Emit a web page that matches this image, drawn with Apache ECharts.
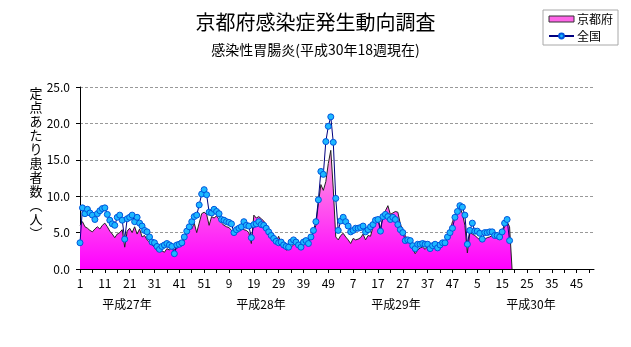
<!DOCTYPE html>
<html><head><meta charset="utf-8">
<script src="https://cdn.jsdelivr.net/npm/echarts/dist/echarts.min.js"></script>
<style>html,body{margin:0;padding:0;background:#fff}#c{width:631px;height:347px}</style>
</head><body><div id="c"></div>
<script>
// ---- data ----
const yearLabels = ['平成27年', '平成28年', '平成29年', '平成30年'];
const weeksPerYear = 52;
const seriesNames = ['京都府', '全国'];
const titleText = '京都府感染症発生動向調査';
const subTitleText = '感染性胃腸炎(平成30年18週現在)';
const yAxisName = '定点あたり患者数(人)';
const yTicks = [0, 5, 10, 15, 20, 25];

const kyotoH27 = [6.0, 6.5, 5.8, 5.6, 5.3, 5.1, 5.5, 5.8, 5.5, 6.0,
  6.3, 5.8, 5.2, 4.8, 4.3, 4.8, 5.0, 5.4, 3.0, 5.2,
  5.6, 5.0, 5.8, 4.8, 5.5, 4.4, 4.6, 4.0, 3.7, 3.3,
  3.0, 2.5, 2.4, 2.5, 2.3, 2.8, 2.6, 3.0, 2.7, 2.8,
  3.2, 3.5, 4.0, 4.8, 5.8, 5.5, 6.3, 5.0, 6.3, 7.6,
  7.8, 7.5];
const kyotoH28 = [6.0, 7.2, 7.0, 7.3, 6.8, 6.3, 6.0, 5.8, 5.7, 5.3,
  4.8, 5.0, 5.2, 5.6, 5.4, 5.3, 5.0, 3.5, 7.4, 7.0,
  7.2, 6.9, 6.6, 6.0, 5.3, 4.8, 4.3, 3.8, 4.5, 3.5,
  3.0, 2.6, 2.7, 3.0, 3.3, 3.5, 2.8, 3.0, 3.4, 3.6,
  4.0, 4.2, 5.0, 6.0, 9.0, 11.6, 10.8, 12.0, 14.5, 16.3,
  11.0, 4.4];
const kyotoH29 = [4.0, 4.6, 4.9, 4.4, 4.0, 3.5, 4.2, 4.0, 4.1, 4.3,
  4.8, 4.0, 4.6, 4.5, 5.8, 6.5, 7.0, 5.5, 7.3, 8.0,
  8.7, 7.5, 7.7, 7.9, 7.8, 6.2, 5.3, 4.6, 4.0, 3.6,
  2.8, 2.1, 2.6, 2.9, 3.0, 2.7, 3.1, 3.3, 3.0, 3.2,
  3.5, 3.3, 3.2, 3.6, 4.3, 5.2, 6.5, 7.3, 8.0, 8.5,
  7.6, 6.0];
// weeks 1-18, then the area falls to zero as in the original
const kyotoH30 = [2.2, 5.0, 4.8, 4.6, 4.3, 4.0, 3.9, 4.1, 4.3, 4.4,
  4.6, 4.5, 4.4, 4.6, 5.0, 5.8, 6.5, 5.8, 0];

const nationalH27 = [3.6, 8.4, 7.6, 8.2, 7.7, 7.4, 6.8, 7.6, 8.0, 8.3,
  8.4, 7.5, 6.7, 6.2, 6.0, 7.1, 7.4, 6.7, 4.1, 6.9,
  7.1, 7.4, 6.5, 7.1, 6.3, 5.9, 5.3, 5.1, 4.4, 3.7,
  3.6, 3.1, 2.7, 3.1, 3.3, 3.5, 3.3, 3.1, 2.1, 3.3,
  3.4, 3.6, 4.4, 5.2, 5.8, 6.5, 7.2, 7.4, 8.8, 10.3,
  10.9, 10.2];
const nationalH28 = [7.8, 7.7, 8.2, 7.9, 7.6, 6.8, 6.7, 6.5, 6.4, 6.2,
  5.0, 5.4, 5.6, 5.8, 6.5, 6.0, 5.9, 4.3, 6.1, 6.2,
  6.5, 6.1, 6.0, 5.6, 5.1, 4.6, 4.2, 3.8, 3.6, 3.7,
  3.3, 3.1, 3.0, 3.7, 4.0, 3.7, 3.3, 3.0, 3.7, 3.9,
  3.5, 4.4, 5.3, 6.5, 9.5, 13.4, 13.0, 17.5, 19.6, 20.9,
  17.4, 9.7];
const nationalH29 = [5.3, 6.6, 7.1, 6.5, 5.9, 5.1, 5.3, 5.6, 5.6, 5.7,
  5.9, 5.1, 5.4, 5.8, 6.1, 6.7, 6.8, 5.2, 7.2, 7.5,
  7.2, 6.8, 7.1, 6.8, 6.1, 5.4, 5.0, 3.9, 4.0, 3.9,
  3.2, 2.8, 3.4, 3.4, 3.5, 3.4, 3.4, 2.8, 3.2, 3.4,
  2.9, 3.3, 3.6, 3.6, 4.4, 5.0, 5.6, 7.1, 7.9, 8.7,
  8.5, 7.4];
const nationalH30 = [3.4, 5.3, 6.3, 5.2, 5.2, 4.9, 4.1, 5.0, 5.0, 5.1,
  5.1, 4.6, 4.6, 4.4, 5.1, 6.3, 6.8, 3.9];

// ---- build ----
const categories = [];
yearLabels.forEach(() => { for (let w = 1; w <= weeksPerYear; w++) categories.push(String(w)); });
const kyoto = kyotoH27.concat(kyotoH28, kyotoH29, kyotoH30);
const national = nationalH27.concat(nationalH28, nationalH29, nationalH30);

const FONT = '"Noto Sans CJK JP", sans-serif';
const chart = echarts.init(document.getElementById('c'), null, { renderer: 'canvas' });

const gridTop = 87, gridBottomPx = 269, gridLeft = 80, gridWidth = 514;
const areaGrad = new echarts.graphic.LinearGradient(0, gridTop, 0, gridBottomPx, [
  { offset: 0, color: '#FFD2EC' },
  { offset: 0.45, color: '#FF8AE4' },
  { offset: 1, color: '#FF00FF' }
], true);

const yearX = [127, 261, 396, 531];

chart.setOption({
  animation: false,
  backgroundColor: '#fff',
  title: {
    text: titleText, subtext: subTitleText, left: 'center', top: 7, itemGap: 11,
    textStyle: { fontFamily: FONT, fontSize: 20, fontWeight: 'normal', color: '#000' },
    subtextStyle: { fontFamily: FONT, fontSize: 14, color: '#000' }
  },
  legend: {
    orient: 'vertical', left: 543, top: 10, padding: [3, 5, 3, 5], itemGap: 5,
    itemWidth: 25, itemHeight: 6, borderColor: '#a8a8a8', borderWidth: 1, borderRadius: 0,
    textStyle: { fontFamily: FONT, fontSize: 12, color: '#000', padding: [0, 0, 0, -2] },
    data: [
      { name: seriesNames[0], icon: 'rect', itemStyle: { color: '#FF66E8', borderColor: '#333', borderWidth: 1 } },
      { name: seriesNames[1] }
    ]
  },
  grid: { left: gridLeft, top: gridTop, width: gridWidth, height: gridBottomPx - gridTop, containLabel: false, outerBoundsMode: 'none' },
  xAxis: {
    type: 'category', data: categories, boundaryGap: false,
    axisLine: { lineStyle: { color: '#000', width: 1 } },
    axisTick: { interval: 4, length: 4, lineStyle: { color: '#000' } },
    axisLabel: { interval: 9, color: '#000', fontFamily: FONT, fontSize: 12, margin: 8 },
    splitLine: { show: false }
  },
  yAxis: {
    type: 'value', min: yTicks[0], max: yTicks[yTicks.length - 1], interval: 5,
    axisLine: { show: true, lineStyle: { color: '#000', width: 1 } },
    axisTick: { show: true, length: 4, lineStyle: { color: '#000' } },
    axisLabel: { color: '#000', fontFamily: FONT, fontSize: 12, margin: 10, formatter: v => v.toFixed(1) },
    splitLine: { show: true, lineStyle: { color: '#999', type: [3, 2], width: 1 } }
  },
  series: [
    {
      name: seriesNames[0], type: 'line', data: kyoto, symbol: 'none', smooth: false,
      lineStyle: { color: '#222', width: 1 },
      itemStyle: { color: '#FF66E8' },
      areaStyle: { color: areaGrad, opacity: 1 },
      z: 2
    },
    {
      name: seriesNames[1], type: 'line', data: national, symbol: 'circle', symbolSize: 6,
      showAllSymbol: true, smooth: false,
      lineStyle: { color: '#000080', width: 1 },
      itemStyle: { color: '#1EB8FF', borderColor: '#0055DD', borderWidth: 1 },
      z: 3
    }
  ],
  graphic: [
    {
      type: 'text', x: 36, y: 86,
      style: {
        text: yAxisName.replace('(', '︵').replace(')', '︶').split('').join('\n'),
        font: '13px ' + FONT, lineHeight: 14, fill: '#000', align: 'center', verticalAlign: 'top'
      }
    }
  ].concat(yearLabels.map((t, k) => ({
    type: 'text', x: yearX[k], y: 304,
    style: { text: t, font: '12px ' + FONT, fill: '#000', align: 'center', verticalAlign: 'middle' }
  })))
});
</script>
</body></html>
